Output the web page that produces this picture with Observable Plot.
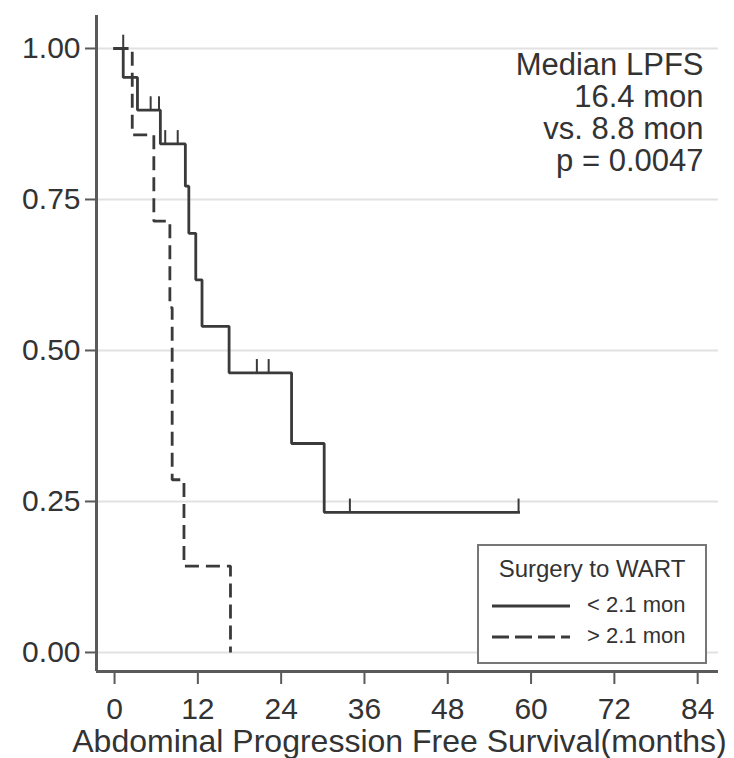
<!DOCTYPE html>
<html><head><meta charset="utf-8">
<script src="https://cdn.jsdelivr.net/npm/d3@7"></script>
<script src="https://cdn.jsdelivr.net/npm/@observablehq/plot@0.6"></script>
<style>
body{margin:0;background:#fff;font-family:"Liberation Sans",Arial,sans-serif;}
#wrap{position:relative;width:734px;height:758px;overflow:hidden;}
#legend{position:absolute;left:477px;top:544px;}
</style></head><body><div id="wrap"></div>
<script>
// ---- data ----
const groupLabels = ["< 2.1 mon", "> 2.1 mon"];
const legendTitle = "Surgery to WART";
// group < 2.1 mon (solid): step points (months, survival)
const shortTime = [0, 1.25, 3.3, 6.6, 10.2, 10.7, 11.7, 12.6, 16.5, 25.5, 30.2, 58.2];
const shortSurv = [1, 0.952, 0.898, 0.842, 0.772, 0.694, 0.617, 0.540, 0.463, 0.346, 0.232, 0.232];
// censor marks of the solid group
const censorTime = [1.25, 5.2, 6.4, 7.3, 9.1, 20.5, 22.2, 33.9, 58.2];
const censorSurv = [1, 0.898, 0.898, 0.842, 0.842, 0.463, 0.463, 0.232, 0.232];
// group > 2.1 mon (dashed)
const longTime = [0, 2.55, 5.66, 7.97, 8.3, 10.0, 16.7];
const longSurv = [1, 0.857, 0.714, 0.571, 0.286, 0.143, 0];
const xTicks = [0, 12, 24, 36, 48, 60, 72, 84];
const yTicks = [0, 0.25, 0.5, 0.75, 1];
const annotation = ["Median LPFS", "16.4 mon", "vs. 8.8 mon", "p = 0.0047"];
const xLabel = "Abdominal Progression Free Survival(months)";

const shortData = shortTime.map((t, i) => ({t, s: shortSurv[i]}));
const longData = longTime.map((t, i) => ({t, s: longSurv[i]}));
const censorData = censorTime.map((t, i) => ({t, s: censorSurv[i]}));

const xDomain = [-2.6, 87];
const yDomain = [-0.0315, 1.0546];
const ink = "#3a3a3a";
const axisInk = "#5a5a5a";
const font = "'Liberation Sans', Arial, sans-serif";

const chart = Plot.plot({
  width: 734, height: 758,
  marginLeft: 96, marginRight: 16, marginTop: 15, marginBottom: 87,
  style: {fontFamily: font, color: "#333", background: "#fff"},
  x: {domain: xDomain},
  y: {domain: yDomain},
  marks: [
    Plot.gridY(yTicks, {stroke: "#e2e2e2", strokeOpacity: 1, strokeWidth: 2}),
    Plot.axisY(yTicks, {tickSize: 11, tickPadding: 5, tickFormat: d3.format(".2f"), fontSize: 30, label: null, stroke: axisInk, strokeWidth: 2, fill: "#333"}),
    Plot.axisX(xTicks, {tickSize: 13, tickPadding: 13, fontSize: 30, label: null, stroke: axisInk, strokeWidth: 2, fill: "#333"}),
    Plot.ruleX([xDomain[0]], {stroke: axisInk, strokeWidth: 3}),
    Plot.ruleY([yDomain[0]], {stroke: axisInk, strokeWidth: 3}),
    Plot.line(longData, {x: "t", y: "s", curve: "step-after", stroke: ink, strokeWidth: 2.8, strokeDasharray: "14,7", strokeLinejoin: "miter", strokeLinecap: "butt"}),
    Plot.line(shortData, {x: "t", y: "s", curve: "step-after", stroke: ink, strokeWidth: 2.8, strokeLinejoin: "miter", strokeLinecap: "square"}),
    Plot.ruleX(censorData, {x: "t", y1: "s", y2: d => d.s + 0.022, stroke: ink, strokeWidth: 2}),
    Plot.text([annotation.join("\n")], {frameAnchor: "top-right", textAnchor: "end", lineAnchor: "top", dx: -15, dy: 37, lineHeight: 1.03, fontSize: 31, fill: "#333"}),
    Plot.text([xLabel], {frameAnchor: "bottom", lineAnchor: "middle", dx: -8, dy: 70, fontSize: 32, fill: "#333"})
  ]
});

const wrap = document.getElementById("wrap");
wrap.appendChild(chart);

// legend (inside the plot area, bottom right)
const lw = 230, lh = 120;
const leg = d3.create("svg").attr("id", "legend").attr("width", lw).attr("height", lh)
  .style("font-family", font);
leg.append("rect").attr("x", 1).attr("y", 1).attr("width", lw - 2).attr("height", lh - 2)
  .attr("fill", "#fff").attr("stroke", "#777").attr("stroke-width", 2);
leg.append("text").attr("x", lw / 2).attr("y", 27).attr("text-anchor", "middle")
  .attr("dominant-baseline", "middle").attr("font-size", 24).attr("fill", "#333").text(legendTitle);
const rows = [{y: 62, dash: null}, {y: 93, dash: "17,6"}];
rows.forEach((r, i) => {
  leg.append("line").attr("x1", 15).attr("x2", 93).attr("y1", r.y).attr("y2", r.y)
    .attr("stroke", ink).attr("stroke-width", 2.8).attr("stroke-dasharray", r.dash);
  leg.append("text").attr("x", 110).attr("y", r.y).attr("dominant-baseline", "middle")
    .attr("font-size", 22).attr("fill", "#333").text(groupLabels[i]);
});
wrap.appendChild(leg.node());
</script>
</body></html>
